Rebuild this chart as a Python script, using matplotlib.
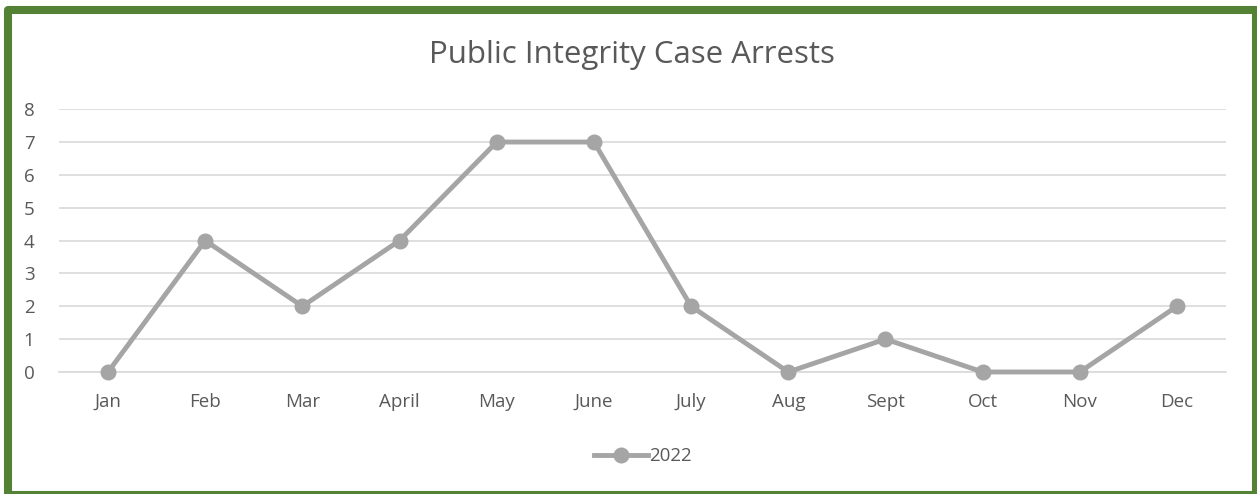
import matplotlib.pyplot as plt
from matplotlib.patches import Rectangle

months = ['Jan', 'Feb', 'Mar', 'April', 'May', 'June', 'July', 'Aug', 'Sept', 'Oct', 'Nov', 'Dec']
arrests_2022 = [0, 4, 2, 4, 7, 7, 2, 0, 1, 0, 0, 2]
y_ticks = [0, 1, 2, 3, 4, 5, 6, 7, 8]

plt.rcParams['font.family'] = ['Open Sans', 'DejaVu Sans']
text_color = '#595959'
line_color = '#A5A5A5'

fig = plt.figure(figsize=(12.57, 4.94), dpi=100)
ax = fig.add_axes([0.0473, 0.247, 0.9277, 0.532])

x = range(len(months))
ax.plot(x, arrests_2022, color=line_color, linewidth=3.5, marker='o', markersize=10.5,
        solid_joinstyle='round', label='2022', clip_on=False, zorder=3)

ax.set_xlim(-0.5, len(months) - 0.5)
ax.set_ylim(0, 8)
ax.set_xticks(list(x))
ax.set_xticklabels(months)
ax.set_yticks(y_ticks)
ax.tick_params(length=0, labelsize=13.5, colors=text_color)
ax.tick_params(axis='x', pad=15)
ax.tick_params(axis='y', pad=18)
ax.grid(axis='y', color='#D9D9D9', linewidth=1.2)
ax.set_axisbelow(True)
for s in ax.spines.values():
    s.set_visible(False)
# zero line sits on the axes edge, draw it unclipped
ax.axhline(0, color='#D9D9D9', linewidth=1.2, clip_on=False, zorder=1)

fig.text(0.503, 0.8725, 'Public Integrity Case Arrests', ha='center', va='baseline',
         fontsize=22.5, color=text_color)

leg = ax.legend(loc='center', bbox_to_anchor=(0.5, -0.32), frameon=False,
                fontsize=13.5, handlelength=2.9, handletextpad=0.05)
for t in leg.get_texts():
    t.set_color(text_color)

border = Rectangle((0.00636, -0.002), 0.9928, 0.9818, transform=fig.transFigure,
                   fill=False, edgecolor='#548235', linewidth=5.8, joinstyle='round')
fig.patches.append(border)

fig.savefig('out.png', dpi=100)
